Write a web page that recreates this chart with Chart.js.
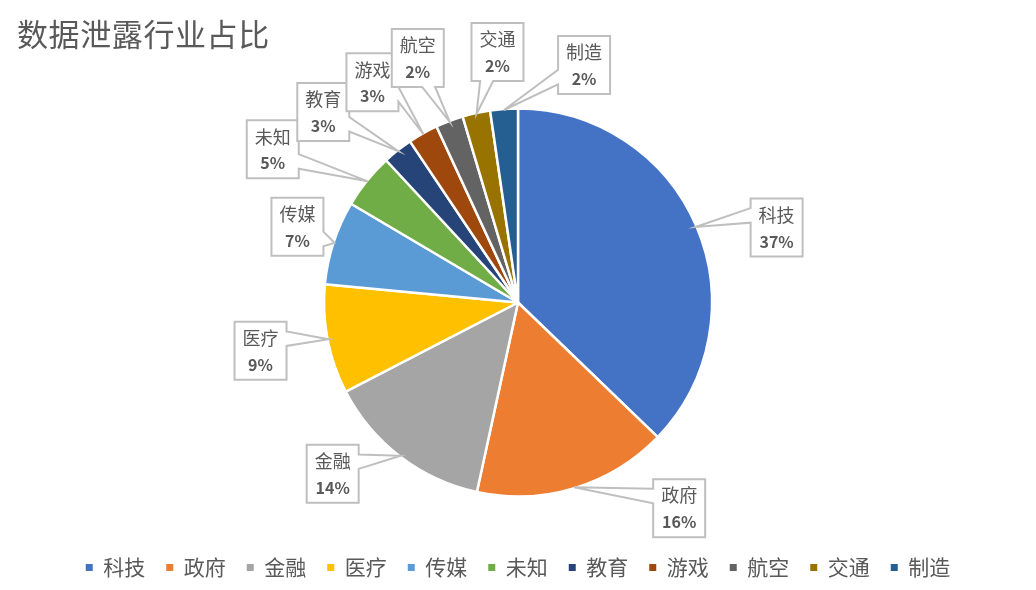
<!DOCTYPE html>
<html>
<head>
<meta charset="utf-8">
<script src="https://cdn.jsdelivr.net/npm/chart.js@4.4.1/dist/chart.umd.min.js"></script>
<style>
  html, body { margin: 0; padding: 0; background: #fff; }
  canvas { display: block; }
</style>
</head>
<body>
<canvas id="myChart" width="1036" height="590"></canvas>
<script>
// 数据
const title = '数据泄露行业占比';
const categories = ['科技', '政府', '金融', '医疗', '传媒', '未知', '教育', '游戏', '航空', '交通', '制造'];
const values = [37.2, 16.2, 14.0, 9.1, 7.0, 4.6, 2.5, 2.5, 2.3, 2.3, 2.3];
const colors = ['#4472C4', '#ED7D31', '#A5A5A5', '#FFC000', '#5B9BD5', '#70AD47',
                '#264478', '#9E480E', '#636363', '#997300', '#255E91'];

// 标签框中心相对于扇区外缘中点的偏移 (px)
const labelOffsets = [[81, 0.5], [105, 21], [-68, 18], [-68, 11.5], [-37, -16], [-95, -32],
                      [-75, -39], [-51, -52], [-32, -64], [21, -62], [80, -45]];

const FONT = "'Noto Sans CJK SC', 'Noto Sans', sans-serif";
const TEXT_COLOR = '#595959';
const total = values.reduce((a, b) => a + b, 0);

// Excel 的 wedgeRectCallout 形状
function calloutPath(ctx, l, t, w, h, px, py) {
    const r = l + w, b = t + h;
    const hc = l + w / 2, vc = t + h / 2;
    const dx = px - hc, dy = py - vc;
    const dz = Math.abs(dy) - Math.abs(dx * h / w);
    const x1 = l + w * (dx > 0 ? 7 : 2) / 12, x2 = l + w * (dx > 0 ? 10 : 5) / 12;
    const y1 = t + h * (dy > 0 ? 7 : 2) / 12, y2 = t + h * (dy > 0 ? 10 : 5) / 12;
    const onTop = dz > 0 && dy <= 0, onBottom = dz > 0 && dy > 0;
    const onLeft = dz <= 0 && dx <= 0, onRight = dz <= 0 && dx > 0;
    ctx.beginPath();
    ctx.moveTo(l, t);
    if (onTop) { ctx.lineTo(x1, t); ctx.lineTo(px, py); ctx.lineTo(x2, t); }
    ctx.lineTo(r, t);
    if (onRight) { ctx.lineTo(r, y1); ctx.lineTo(px, py); ctx.lineTo(r, y2); }
    ctx.lineTo(r, b);
    if (onBottom) { ctx.lineTo(x2, b); ctx.lineTo(px, py); ctx.lineTo(x1, b); }
    ctx.lineTo(l, b);
    if (onLeft) { ctx.lineTo(l, y2); ctx.lineTo(px, py); ctx.lineTo(l, y1); }
    ctx.closePath();
}

const titlePlugin = {
    id: 'chartTitle',
    afterDraw(chart) {
        const ctx = chart.ctx;
        ctx.save();
        ctx.font = '31px ' + FONT;
        ctx.fillStyle = TEXT_COLOR;
        ctx.textAlign = 'left';
        ctx.textBaseline = 'middle';
        ctx.letterSpacing = '0.6px';
        ctx.fillText(title, 17, 34);
        ctx.restore();
    }
};

const calloutPlugin = {
    id: 'calloutLabels',
    afterDatasetsDraw(chart) {
        const ctx = chart.ctx;
        const meta = chart.getDatasetMeta(0);
        ctx.save();
        meta.data.forEach((arc, i) => {
            const p = arc.getProps(['x', 'y', 'startAngle', 'endAngle', 'outerRadius'], true);
            const mid = (p.startAngle + p.endAngle) / 2;
            const rr = p.outerRadius - 1;
            const ax = p.x + Math.cos(mid) * rr;
            const ay = p.y + Math.sin(mid) * rr;
            const cx = ax + labelOffsets[i][0];
            const cy = ay + labelOffsets[i][1];

            const name = categories[i];
            const pct = Math.round(values[i] / total * 100) + '%';
            ctx.font = '18px ' + FONT;
            const w1 = ctx.measureText(name).width;
            ctx.font = 'bold 16px ' + FONT;
            const w2 = ctx.measureText(pct).width;
            const w = Math.max(w1, w2) + 16, h = 58;
            const l = cx - w / 2, t = cy - h / 2;

            calloutPath(ctx, l, t, w, h, ax, ay);
            ctx.fillStyle = '#FFFFFF';
            ctx.fill();
            ctx.lineWidth = 2;
            ctx.strokeStyle = '#BFBFBF';
            ctx.lineJoin = 'miter';
            ctx.stroke();

            ctx.fillStyle = TEXT_COLOR;
            ctx.textAlign = 'center';
            ctx.textBaseline = 'middle';
            ctx.font = '18px ' + FONT;
            ctx.fillText(name, cx, cy - 12.5);
            ctx.font = 'bold 16px ' + FONT;
            ctx.fillText(pct, cx, cy + 14);
        });
        ctx.restore();
    }
};

const ctx = document.getElementById('myChart').getContext('2d');

const myChart = new Chart(ctx, {
    type: 'pie',
    data: {
        labels: categories,
        datasets: [{
            data: values,
            backgroundColor: colors,
            borderColor: '#FFFFFF',
            borderWidth: 2.5,
            radius: 194
        }]
    },
    options: {
        responsive: false,
        animation: false,
        layout: { padding: { top: 69, bottom: 2, left: 0, right: 0 } },
        plugins: {
            tooltip: { enabled: false },
            title: { display: false },
            legend: {
                position: 'bottom',
                labels: {
                    boxWidth: 7,
                    boxHeight: 7,
                    padding: 21,
                    color: TEXT_COLOR,
                    font: { family: FONT, size: 21 },
                    generateLabels: () => categories.map((c, i) => ({
                        text: c,
                        fillStyle: colors[i],
                        strokeStyle: colors[i],
                        lineWidth: 0,
                        fontColor: TEXT_COLOR,
                        hidden: false,
                        index: i
                    }))
                }
            }
        }
    },
    plugins: [calloutPlugin, titlePlugin]
});
</script>
</body>
</html>
